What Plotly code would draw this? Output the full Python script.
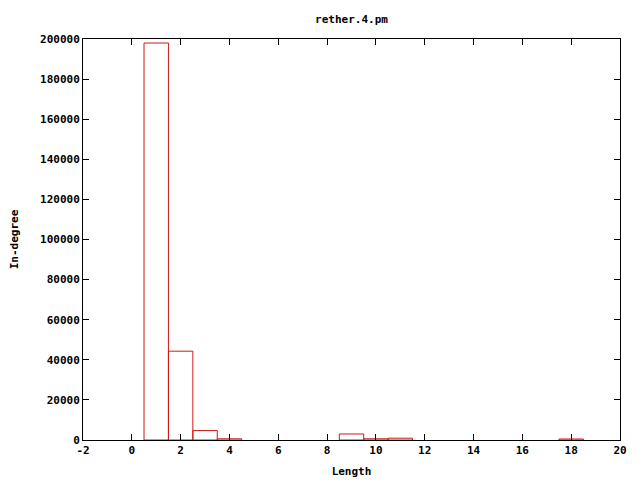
import plotly.graph_objects as go

lengths = [1, 2, 3, 4, 9, 10, 11, 18]
indegree = [198000, 44300, 4700, 600, 3000, 600, 900, 500]

x_ticks = list(range(-2, 21, 2))
y_ticks = list(range(0, 200001, 20000))

font = dict(family="DejaVu Sans Mono", size=11, color="black")

W, H = 632, 472

fig = go.Figure()
fig.add_trace(go.Bar(
    x=lengths, y=indegree, width=1,
    marker=dict(color="rgba(0,0,0,0)", line=dict(color="#cc1a1a", width=1)),
))
fig.update_layout(
    width=W, height=H,
    margin=dict(l=75, r=20, t=31, b=40, autoexpand=False),
    paper_bgcolor="white", plot_bgcolor="white",
    showlegend=False,
    title=dict(text="<b>rether.4.pm</b>", x=0.5, xref="paper", xanchor="center",
               y=1 - 11 / H, yanchor="middle", font=font),
    font=font,
)
fig.update_xaxes(
    range=[-2, 20], tickvals=x_ticks, ticktext=[f"<b>{v}</b>" for v in x_ticks],
    ticks="inside", ticklen=6, tickcolor="black", mirror="ticks",
    showline=True, linecolor="black", linewidth=1, showgrid=False, zeroline=False,
    title=dict(text="<b>Length</b>", standoff=11, font=font),
)
fig.update_yaxes(
    range=[0, 200000], tickvals=y_ticks, ticktext=[f"<b>{v}</b>" for v in y_ticks],
    ticks="inside", ticklen=6, tickcolor="black", mirror="ticks",
    showline=True, linecolor="black", linewidth=1, showgrid=False, zeroline=False,
    title=dict(text="<b>In-degree</b>", standoff=20, font=font),
)
fig.write_html("out.html")
